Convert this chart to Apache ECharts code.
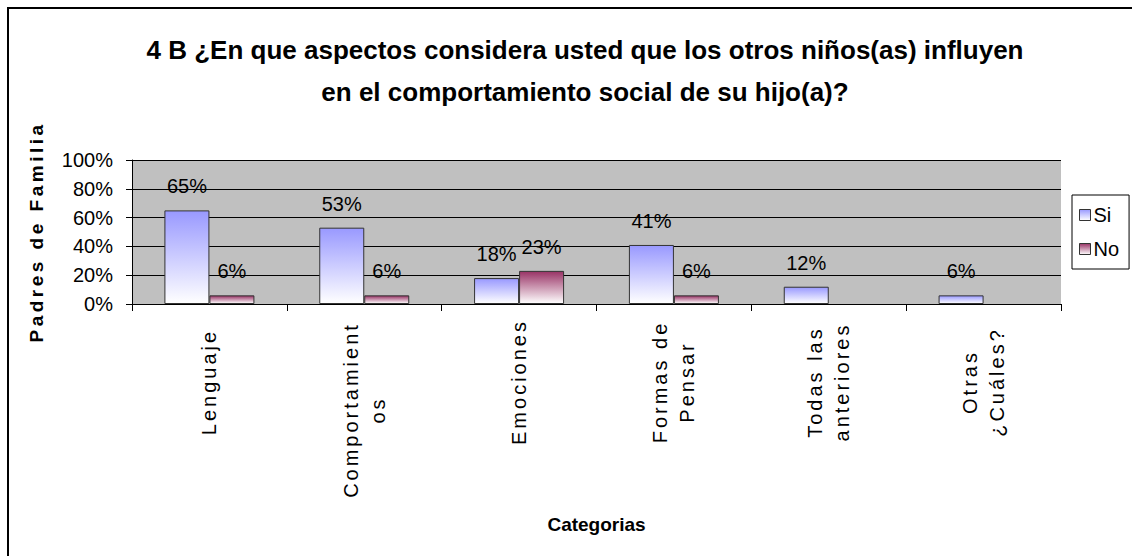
<!DOCTYPE html>
<html>
<head>
<meta charset="utf-8">
<script src="https://cdn.jsdelivr.net/npm/echarts@6/dist/echarts.min.js"></script>
<style>
html,body{margin:0;padding:0;background:#fff;}
#c{width:1132px;height:556px;}
#c text[style*="Arimo"]{letter-spacing:3px;}
#c text[style*="CousineX"]{letter-spacing:3.5px;}
</style>
</head>
<body>
<div id="c"></div>
<script>
const titleText = '4 B ¿En que aspectos considera usted que los otros niños(as) influyen\nen el comportamiento social de su hijo(a)?';
const categories = ['Lenguaje', 'Comportamient\nos', 'Emociones', 'Formas de\nPensar', 'Todas las\nanteriores', 'Otras\n¿Cuáles?'];
const seriesNames = ['Si', 'No'];
const siValues = [65, 53, 18, 41, 12, 6];
const noValues = [6, 6, 23, 6, null, null];

const chart = echarts.init(document.getElementById('c'), null, {renderer: 'svg'});
const FONT = "'Liberation Sans', Arial, sans-serif";
const FONT_CAT = "Arimo, 'Liberation Sans', sans-serif";
const FONT_YNAME = "CousineX, 'Liberation Sans', sans-serif";
const LONG_IDX = 1;

function grad(top) {
  return new echarts.graphic.LinearGradient(0, 0, 0, 1, [
    {offset: 0, color: top},
    {offset: 1, color: '#ffffff'}
  ]);
}

const catLabelBase = {
  interval: 0,
  rotate: 90,
  align: 'center',
  fontFamily: FONT_CAT,
  fontSize: 20,
  color: '#000',
  lineHeight: 27
};

chart.setOption({
  animation: false,
  backgroundColor: '#ffffff',
  graphic: [{
    type: 'rect',
    shape: {x: 8, y: 8, width: 1300, height: 700},
    style: {fill: 'none', stroke: '#000', lineWidth: 2},
    silent: true,
    z: 100
  }],
  title: {
    text: titleText,
    left: 580,
    top: 24,
    textAlign: 'center',
    textStyle: {fontFamily: FONT, fontSize: 26, fontWeight: 'bold', color: '#000', lineHeight: 42}
  },
  legend: {
    orient: 'vertical',
    left: 1072,
    top: 195,
    padding: [10, 10, 10, 7],
    itemGap: 14,
    itemWidth: 11,
    itemHeight: 11,
    borderColor: '#000',
    borderWidth: 1,
    backgroundColor: '#fff',
    icon: 'rect',
    itemStyle: {borderColor: '#333', borderWidth: 1},
    textStyle: {fontFamily: FONT, fontSize: 20, color: '#000', padding: [0, 0, 0, -2]},
    data: seriesNames
  },
  grid: {left: 132, right: 71, top: 160, bottom: 252, containLabel: false,
    outerBoundsMode: 'none',
    show: true, backgroundColor: '#c0c0c0', borderWidth: 0},
  xAxis: [{
    type: 'category',
    data: categories,
    position: 'bottom',
    name: 'Categorias',
    nameLocation: 'middle',
    nameGap: 211,
    nameTextStyle: {fontFamily: FONT, fontSize: 19, fontWeight: 'bold', color: '#000'},
    axisLine: {lineStyle: {color: '#000', width: 1}},
    axisTick: {show: true, length: 7, lineStyle: {color: '#000'}, alignWithLabel: false},
    axisLabel: Object.assign({}, catLabelBase, {
      margin: 78,
      formatter: function (v, i) { return i === LONG_IDX ? '' : v; }
    })
  }, {
    type: 'category',
    data: categories,
    position: 'bottom',
    offset: 0,
    axisLine: {show: false},
    axisTick: {show: false},
    splitLine: {show: false},
    axisLabel: Object.assign({}, catLabelBase, {
      margin: 106,
      formatter: function (v, i) { return i === LONG_IDX ? v : ''; }
    })
  }],
  yAxis: {
    type: 'value',
    min: 0,
    max: 100,
    interval: 20,
    name: 'Padres de Familia',
    nameLocation: 'middle',
    nameGap: 86,
    nameTextStyle: {fontFamily: FONT_YNAME, fontSize: 19, fontWeight: 'bold', color: '#000'},
    axisLine: {show: true, lineStyle: {color: '#000', width: 1}},
    axisTick: {show: true, length: 6, lineStyle: {color: '#000'}},
    axisLabel: {
      formatter: '{value}%',
      margin: 19,
      fontFamily: FONT,
      fontSize: 20,
      color: '#000'
    },
    splitLine: {show: true, lineStyle: {color: '#000', width: 1}}
  },
  series: [
    {
      name: seriesNames[0],
      type: 'bar',
      xAxisIndex: 0,
      data: siValues,
      barWidth: 45,
      barGap: '0%',
      itemStyle: {color: grad('#9999ff'), borderColor: '#333', borderWidth: 1},
      label: {show: true, position: 'top', distance: 14, formatter: '{c}%',
        fontFamily: FONT, fontSize: 20, color: '#000'}
    },
    {
      name: seriesNames[1],
      type: 'bar',
      xAxisIndex: 0,
      data: noValues,
      barWidth: 45,
      barGap: '0%',
      itemStyle: {color: grad('#993366'), borderColor: '#333', borderWidth: 1},
      label: {show: true, position: 'top', distance: 14, formatter: '{c}%',
        fontFamily: FONT, fontSize: 20, color: '#000'}
    }
  ]
});
</script>
</body>
</html>
